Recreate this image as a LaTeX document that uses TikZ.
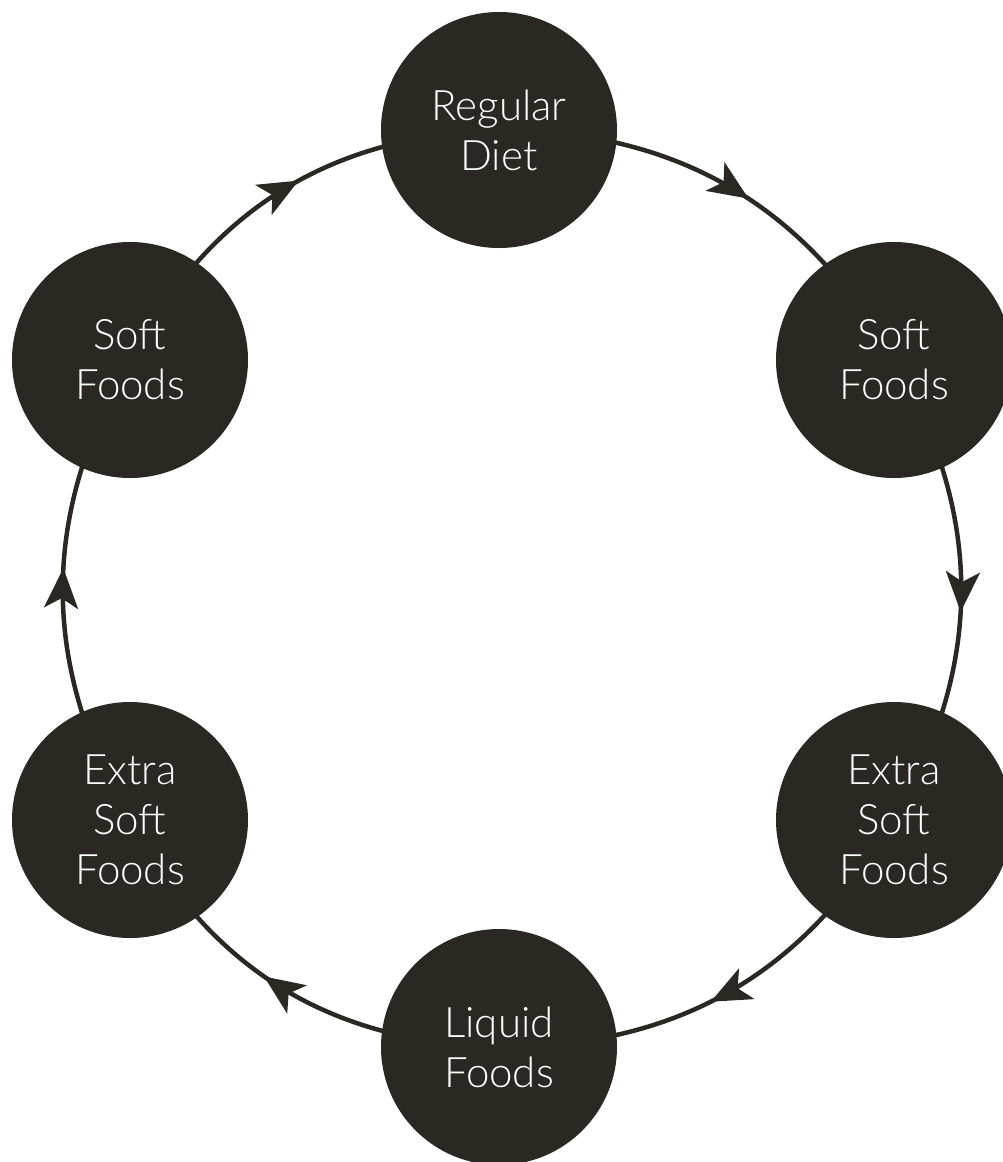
\documentclass[tikz,border=0pt]{standalone}
\usepackage{fontspec}
\setmainfont{Lato}[UprightFont=* Light]
\usetikzlibrary{arrows.meta,backgrounds,decorations.markings}
\definecolor{DietInk}{HTML}{2B2824}
\tikzset{
  diet/stage/.style={
    circle, fill=DietInk, text=white, minimum size=236pt, inner sep=0pt,
    font=\fontsize{42}{50}\selectfont, align=center
  },
  diet/arrow/.style={
    line width=4.5pt, draw=DietInk,
    postaction={decorate},
    decoration={markings, mark=at position .545 with
      {\arrow{Stealth[length=40pt,width=34pt,inset=10pt]}}}
  }
}
\begin{document}
\begin{tikzpicture}[x=1pt,y=-1pt]
  \useasboundingbox (0,0) rectangle (1003,1162);
  % stages of the diet, clockwise from the top
  \node[diet/stage] (reg)    at (499,130)  {Regular\\Diet};
  \node[diet/stage] (softR)  at (894,360)  {Soft\\Foods};
  \node[diet/stage] (extraR) at (894,820)  {Extra\\Soft\\Foods};
  \node[diet/stage] (liquid) at (499,1047) {Liquid\\Foods};
  \node[diet/stage] (extraL) at (130,820)  {Extra\\Soft\\Foods};
  \node[diet/stage] (softL)  at (130,360)  {Soft\\Foods};
  \begin{scope}[on background layer]
    \foreach \a/\b in {reg/softR,softR/extraR,extraR/liquid,
                       liquid/extraL,extraL/softL,softL/reg}
      \draw[diet/arrow] (\a.center) to[bend left=30] (\b.center);
  \end{scope}
\end{tikzpicture}
\end{document}
